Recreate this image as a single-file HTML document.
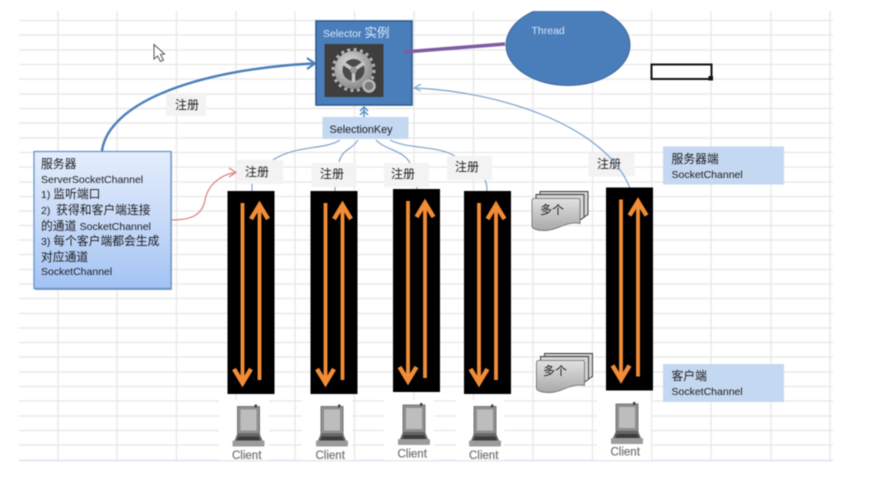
<!DOCTYPE html>
<html><head><meta charset="utf-8">
<style>
html,body{margin:0;padding:0;background:#fff;width:879px;height:478px;overflow:hidden}
svg{display:block;filter:blur(.4px)}
text{font-family:"Liberation Sans","Noto Sans CJK SC",sans-serif;fill:#1c1c1c}
.l{font-size:10.5px}
</style></head><body>
<svg width="879" height="478" viewBox="0 0 879 478" xmlns="http://www.w3.org/2000/svg">
<defs>
<linearGradient id="srv" x1="0" y1="0" x2="0" y2="1"><stop offset="0" stop-color="#e4edfc"/><stop offset=".5" stop-color="#c8daf8"/><stop offset="1" stop-color="#a3c3f5"/></linearGradient>
<linearGradient id="doc" x1="0" y1="0" x2="0" y2="1"><stop offset="0" stop-color="#e2e2e2"/><stop offset="1" stop-color="#a8a8a8"/></linearGradient>
<radialGradient id="gear" cx=".4" cy=".35" r=".8"><stop offset="0" stop-color="#e0e0e0"/><stop offset="1" stop-color="#777"/></radialGradient>
<g id="col">
<rect x="0" y="0" width="47" height="203" fill="#000"/>
<path d="M15 12V190M32 189V15" stroke="#f28d36" stroke-width="3.800" fill="none"/>
<path d="M6.500 178L15 192L23.500 178M23.500 28L32 14L40.500 28" stroke="#f28d36" stroke-width="4.500" fill="none"/>
</g>
<g id="pc">
<rect x="5" y="2" width="22" height="27" fill="#8f8f8f" stroke="#777"/>
<rect x="8" y="5" width="16" height="21" fill="#bdbdbd"/>
<rect x="22" y="0" width="2.500" height="3" fill="#444"/>
<path d="M5 29H27L30 36H2Z" fill="#666"/>
<path d="M6 32H26L28 36H4Z" fill="#3c3c3c"/>
<rect x="0" y="36" width="32" height="6" rx="1" fill="#9c9c9c"/>
</g>
<g id="docs">
<path d="M8 0H56V23L48 28H8Z" fill="#d5d5d5" stroke="#333" stroke-width=".9"/>
<path d="M4 3H52V26L44 31H4Z" fill="#d5d5d5" stroke="#333" stroke-width=".9"/>
<path d="M2 7H46Q48 7 48 9V32C34 29 24 40 11 39C5 39 0 37 0 35V9Q0 7 2 7Z" fill="url(#doc)" stroke="#666" stroke-width=".8"/>
</g>
</defs>
<rect width="879" height="478" fill="#fff"/>

<!-- sheet gridlines -->
<g stroke="#e7e7e8" stroke-width="1.300" fill="none">
<path d="M19 20.500H833M19 35H833M19 50H833M19 64.500H833M19 79H833M19 94H833M19 108.500H833M19 123H833M19 138H833M19 152.500H833M19 167H833M19 182H833M19 196.500H833M19 211H833M19 225.500H833M19 240H833M19 254.500H833M19 269.500H833M19 284H833M19 298.500H833M19 313.500H833M19 328H833M19 342.500H833M19 357H833M19 372H833M19 386.500H833M19 401H833M19 416H833M19 430.500H833M19 445H833"/>
<path d="M58 11V460M117 11V460M176.500 11V460M236 11V460M295 11V460M354.500 11V460M414 11V460M473.500 11V460M533 11V460M592.500 11V460M651.500 11V460M711 11V460M771 11V460M830 11V460"/>
</g>
<path d="M19 460.500H833" stroke="#e3e9f3" stroke-width="2"/>

<!-- white patches behind clients -->
<g fill="#fff">
<rect x="219" y="400" width="50" height="60"/>
<rect x="302" y="400" width="50" height="60"/>
<rect x="384" y="400" width="50" height="60"/>
<rect x="456" y="400" width="48" height="60"/>
<rect x="597" y="398" width="54" height="62"/>
</g>

<!-- cursor -->
<path d="M154 44.500V59L157.500 56L160.500 61.500L163.500 60L160.500 54.500L164.500 54Z" fill="#fff" stroke="#555" stroke-width="1"/>

<!-- connectors -->
<path d="M102 151C108 105 190 70 313 63.500" fill="none" stroke="#4a7ebb" stroke-width="2.400"/>
<path d="M307 58L315 63.500L307 69" fill="none" stroke="#4a7ebb" stroke-width="2"/>
<path d="M171 220C190 220 202 216 205 200C208 184 222 174 236 172.500" fill="none" stroke="#d9807b" stroke-width="1.200"/>
<path d="M229 168L236 172.500L229 177" fill="none" stroke="#d9807b" stroke-width="1.200"/>
<g fill="none" stroke="#7ea3cc" stroke-width="1.200">
<path d="M364 107V118M360 111L364 107L368 111M360 115L364 111L368 115" stroke="#5b8cc4" stroke-width="1.500"/>
<path d="M340 140C325 150 295 145 273 160"/>
<path d="M358 140C352 150 343 148 339 162"/>
<path d="M376 140C385 150 403 150 410 163"/>
<path d="M390 140C410 150 440 145 456 157"/>
<path d="M252 183V191M335 184V191M417 184V189M485 180C487 184 487 188 487 191"/>
</g>

<!-- selector -->
<rect x="316" y="21" width="96" height="84" fill="#4a7ebb" stroke="#2f5b8f" stroke-width="1.600"/>
<text x="323" y="37" font-size="10.500" style="fill:#dbe8f8">Selector <tspan font-size="12.500">实例</tspan></text>
<rect x="324.500" y="44" width="59" height="53" fill="#3e3e3e"/>
<circle cx="353.500" cy="70" r="20.500" fill="none" stroke="#b5b5b5" stroke-width="3" stroke-dasharray="3 3.440"/>
<circle cx="353.500" cy="70" r="19" fill="url(#gear)"/>
<circle cx="353.500" cy="70" r="11" fill="#4a4a4a"/>
<path d="M353.500 70L343 63M353.500 70L364 63M353.500 70V82" stroke="#c8c8c8" stroke-width="3.500"/>
<circle cx="353.500" cy="70" r="3.500" fill="#999"/>
<circle cx="369" cy="86" r="5.500" fill="#7a7a7a" stroke="#b9b9b9" stroke-width="2.500"/>

<rect x="322.500" y="117" width="86" height="22" fill="#c5d8f1"/>
<text x="329.500" y="133" font-size="10.800">SelectionKey</text>

<!-- purple link -->
<path d="M404 52L505 44" stroke="#7d5ca3" stroke-width="3.600" fill="none"/>

<!-- thread -->
<ellipse cx="568" cy="45" rx="62" ry="40.500" fill="#4a7ebb" stroke="#3a6595" stroke-width="1"/>
<rect x="500" y="0" width="136" height="11" fill="#fff"/>
<text x="531.500" y="34" font-size="10.500" style="fill:#d8e6f7">Thread</text>

<!-- selected cell -->
<rect x="651.500" y="64.500" width="60" height="14.500" fill="none" stroke="#111" stroke-width="2"/>
<rect x="708.500" y="76" width="4.500" height="4.500" fill="#111"/>

<!-- server box -->
<rect x="34" y="151.500" width="137" height="137" fill="url(#srv)" stroke="#5f8ec8" stroke-width="1.200"/>
<path d="M35 289.500H171.500V152" fill="none" stroke="#8aa0bd" stroke-width="1"/>
<g font-size="11.800">
<text x="41" y="168">服务器</text>
<text x="41" y="183" class="l">ServerSocketChannel</text>
<text x="41" y="198"><tspan class="l">1) </tspan>监听端口</text>
<text x="41" y="214"><tspan class="l">2) &#160;</tspan>获得和客户端连接</text>
<text x="41" y="230">的通道 <tspan class="l">SocketChannel</tspan></text>
<text x="41" y="245"><tspan class="l">3) </tspan>每个客户端都会生成</text>
<text x="41" y="261">对应通道</text>
<text x="41" y="275" class="l">SocketChannel</text>
</g>

<!-- register labels -->
<g fill="#f3f3f3">
<rect x="166" y="94" width="40" height="22"/>
<rect x="237" y="160" width="46" height="24"/>
<rect x="311.500" y="163" width="45" height="24"/>
<rect x="384" y="163" width="45" height="24"/>
<rect x="447" y="156" width="45" height="24"/>
<rect x="588.500" y="152.500" width="46" height="24"/>
</g>
<g font-size="12">
<text x="175" y="109">注册</text>
<text x="245" y="176">注册</text>
<text x="320" y="178">注册</text>
<text x="391" y="178">注册</text>
<text x="455" y="171">注册</text>
<text x="597" y="168">注册</text>
</g>

<!-- right long connector -->
<path d="M416 88C500 92 605 125 630 188" fill="none" stroke="#7ea3cc" stroke-width="1.200"/>
<path d="M421 84L414 88L421 91" fill="none" stroke="#7ea3cc" stroke-width="1.200"/>

<!-- channel columns -->
<use href="#col" x="227.500" y="191"/>
<use href="#col" x="310.500" y="191"/>
<use href="#col" x="393" y="189"/>
<use href="#col" x="464" y="191"/>
<use href="#col" x="606" y="187.500"/>

<!-- document stacks -->
<use href="#docs" x="532" y="191.500"/>
<use href="#docs" x="536.500" y="353.500"/>
<text x="540" y="214" font-size="12">多个</text>
<text x="543" y="375" font-size="12">多个</text>

<!-- channel labels -->
<rect x="663" y="146.500" width="121" height="38" fill="#c5d8f1"/>
<rect x="663" y="364" width="121" height="38" fill="#c5d8f1"/>
<g font-size="11.800">
<text x="671.500" y="163">服务器端</text>
<text x="671.500" y="178" class="l">SocketChannel</text>
<text x="671.500" y="380">客户端</text>
<text x="671.500" y="395" class="l">SocketChannel</text>
</g>

<!-- clients -->
<use href="#pc" x="232.500" y="404.500"/>
<use href="#pc" x="316" y="404.500"/>
<use href="#pc" x="398" y="403"/>
<use href="#pc" x="469" y="404.500"/>
<use href="#pc" x="611" y="402"/>
<g font-size="11.500" style="stroke:#777;stroke-width:.25">
<text x="232" y="459" style="fill:#777">Client</text>
<text x="315.500" y="459" style="fill:#777">Client</text>
<text x="397.500" y="457.500" style="fill:#777">Client</text>
<text x="469" y="459" style="fill:#777">Client</text>
<text x="610.500" y="455.500" style="fill:#777">Client</text>
</g>
</svg>
</body></html>
